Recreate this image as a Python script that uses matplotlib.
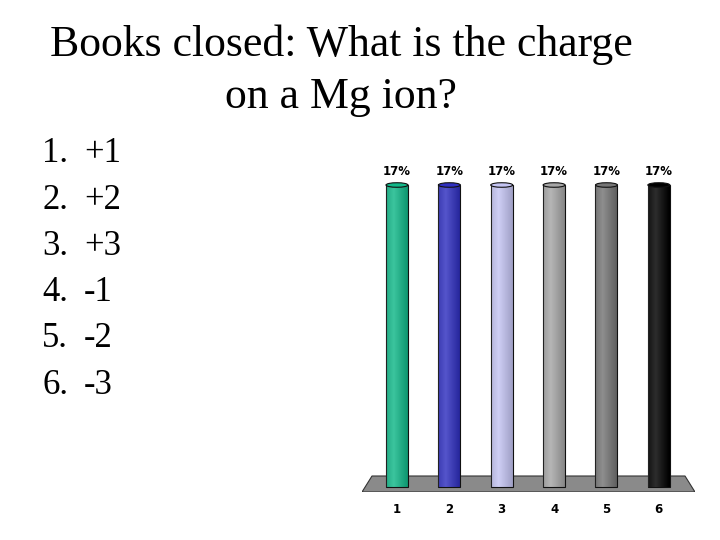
import matplotlib.pyplot as plt
import matplotlib.patches as mpatches
import numpy as np

# quiz answer choices and response shares
choices = ["+1", "+2", "+3", "-1", "-2", "-3"]
answer_ids = [1, 2, 3, 4, 5, 6]
shares = [16.67, 16.67, 16.67, 16.67, 16.67, 16.67]
share_labels = ["17%", "17%", "17%", "17%", "17%", "17%"]
bar_colors = ["#12b889", "#3030c0", "#c4c4f2", "#a6a6a6", "#767676", "#000000"]

fig = plt.figure(figsize=(7.2, 5.4), dpi=100)
fig.patch.set_facecolor("white")

# -----------------------------
# Title and answer list
# -----------------------------

fig.text(0.474, 1 - 71 / 540, "Books closed: What is the charge\non a Mg ion?",
         ha="center", va="center", family="Liberation Serif",
         fontsize=31.5, linespacing=1.38)

for i, choice in enumerate(choices):
    y = 1 - (154 + i * 46.2) / 540
    fig.text(42 / 720, y, f"{i + 1}.", ha="left", va="center",
             family="Liberation Serif", fontsize=25)
    fig.text(84 / 720, y, choice, ha="left", va="center",
             family="Liberation Serif", fontsize=25)

# -----------------------------
# Bar chart
# -----------------------------

ax = fig.add_axes([362 / 720, 48 / 540, 333 / 720, 332 / 540])
ax.set_xlim(0.332, 6.69)
ax.set_ylim(-0.276, 18.05)

# grey floor
floor = mpatches.Polygon(
    [(0, 0), (1, 0), (323 / 333, 16 / 332), (10 / 333, 16 / 332)],
    closed=True, transform=ax.transAxes, facecolor="#8a8a8a",
    edgecolor="#333333", linewidth=0.8, zorder=1)
ax.add_patch(floor)

bar_width = 0.42
bars = ax.bar(answer_ids, shares, width=bar_width, color=bar_colors,
              edgecolor="#111111", linewidth=0.8, zorder=2)

# cylinder shading
grad = np.linspace(0, 1, 64).reshape(1, -1)
shade = np.clip(1 - np.abs(grad - 0.35) * 1.6, 0, 1)
for bar, c in zip(bars, bar_colors):
    x0 = bar.get_x()
    h = bar.get_height()
    im = ax.imshow(shade, extent=(x0, x0 + bar_width, 0, h), aspect="auto",
                   cmap="gray", alpha=0.18, zorder=3)
    im.set_clip_path(bar)
    cap = mpatches.Ellipse((x0 + bar_width / 2, h), bar_width, 0.25,
                           facecolor=c, edgecolor="#111111", linewidth=0.8,
                           zorder=4)
    ax.add_patch(cap)

ax.bar_label(bars, labels=share_labels, padding=5, fontsize=8.5,
             fontweight="bold", family="DejaVu Sans")

ax.set_xticks(answer_ids)
ax.set_xticklabels([str(a) for a in answer_ids], fontsize=8.5,
                   fontweight="bold")
ax.tick_params(axis="x", length=0, pad=8)
ax.set_yticks([])
for spine in ax.spines.values():
    spine.set_visible(False)

fig.savefig("out.png", dpi=100)
